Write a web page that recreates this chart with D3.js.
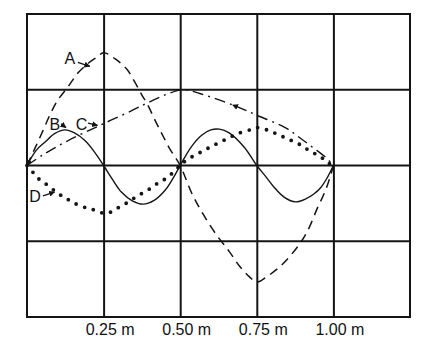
<!DOCTYPE html>
<html>
<head>
<meta charset="utf-8">
<script src="https://cdn.jsdelivr.net/npm/d3@7"></script>
<style>
  body { margin: 0; background: #fff; }
  svg { display: block; }
  text { font-family: 'Liberation Sans', Arial, sans-serif; fill: #111; }
</style>
</head>
<body>
<svg width="435" height="352"></svg>
<script>
var svg = d3.select('svg')

// grid / tick values
var xTicks = [0.25, 0.5, 0.75, 1.0]
var yGrid = [-1, 0, 1]

// wave shapes, [x in m, displacement]
var curveA = [[0, 0], [0.025, 0.22], [0.05, 0.44], [0.075, 0.67], [0.1, 0.86], [0.134, 1.04], [0.166, 1.22],
  [0.2, 1.35], [0.228, 1.43], [0.25, 1.49], [0.287, 1.41], [0.326, 1.27], [0.352, 1.1], [0.375, 0.93],
  [0.394, 0.8], [0.42, 0.58], [0.44, 0.42], [0.466, 0.22], [0.5, 0], [0.537, -0.36], [0.573, -0.63],
  [0.619, -0.92], [0.661, -1.14], [0.694, -1.33], [0.726, -1.47], [0.75, -1.54], [0.782, -1.47],
  [0.824, -1.34], [0.866, -1.16], [0.899, -0.98], [0.922, -0.81], [0.948, -0.56], [0.971, -0.36],
  [0.987, -0.18], [1, 0]]

var curveB = [[0, 0], [0.03, 0.2], [0.059, 0.31], [0.09, 0.42], [0.124, 0.47], [0.155, 0.43], [0.189, 0.33],
  [0.22, 0.18], [0.25, 0], [0.28, -0.19], [0.308, -0.35], [0.345, -0.47], [0.379, -0.51], [0.415, -0.46],
  [0.45, -0.33], [0.475, -0.18], [0.5, 0], [0.535, 0.24], [0.57, 0.4], [0.6, 0.47], [0.628, 0.48],
  [0.66, 0.43], [0.709, 0.24], [0.75, 0], [0.78, -0.15], [0.807, -0.29], [0.84, -0.42], [0.877, -0.48],
  [0.91, -0.44], [0.935, -0.38], [0.959, -0.29], [0.98, -0.16], [1, 0]]

var curveC = [[0, 0], [0.052, 0.14], [0.13, 0.32], [0.238, 0.53], [0.345, 0.73], [0.4, 0.84], [0.456, 0.94],
  [0.51, 1.0], [0.564, 0.95], [0.671, 0.8], [0.752, 0.66], [0.847, 0.49], [0.889, 0.37], [0.932, 0.24],
  [0.977, 0.1], [1, 0]]

var curveD = [[0, 0], [0.026, -0.12], [0.042, -0.19], [0.064, -0.25], [0.102, -0.37], [0.13, -0.44],
  [0.156, -0.5], [0.194, -0.56], [0.222, -0.59], [0.25, -0.63], [0.27, -0.62], [0.292, -0.57],
  [0.319, -0.51], [0.346, -0.44], [0.374, -0.37], [0.4, -0.31], [0.428, -0.23], [0.45, -0.18],
  [0.472, -0.11], [0.5, 0], [0.52, 0.07], [0.564, 0.17], [0.606, 0.26], [0.651, 0.35], [0.694, 0.43],
  [0.736, 0.48], [0.752, 0.5], [0.79, 0.46], [0.824, 0.4], [0.857, 0.34], [0.889, 0.28], [0.912, 0.22],
  [0.938, 0.16], [0.96, 0.11], [0.98, 0.04], [1, 0]]

var labelNames = ['A', 'B', 'C', 'D']
var labelPos = [[0.14, 1.41], [0.091, 0.54], [0.178, 0.55], [0.026, -0.4]]
var labelArrows = [
  [[0.166, 1.36], [0.205, 1.31]],
  [[0.111, 0.55], [0.127, 0.5]],
  [[0.199, 0.56], [0.23, 0.53]],
  [[0.052, -0.4], [0.09, -0.35]]
]

var x = d3.scaleLinear().domain([0, 1.25]).range([27, 410])
var y = d3.scaleLinear().domain([-2, 2]).range([317, 14])

var ink = '#141414'

svg.append('defs').append('marker')
  .attr('id', 'head')
  .attr('viewBox', '0 0 10 10')
  .attr('refX', 9).attr('refY', 5)
  .attr('markerWidth', 6).attr('markerHeight', 6)
  .attr('markerUnits', 'userSpaceOnUse')
  .attr('orient', 'auto')
  .append('path')
  .attr('d', 'M0,0L10,5L0,10z')
  .attr('fill', ink)

// vertical grid + tick labels
var xAxis = d3.axisBottom(x)
  .tickValues(xTicks)
  .tickSize(-(y(-2) - y(2)))
  .tickPadding(7)
  .tickFormat((d) => d3.format('.2f')(d) + ' m')

var gx = svg.append('g')
  .attr('transform', 'translate(0,' + y(-2) + ')')
  .call(xAxis)
gx.select('.domain').remove()
gx.selectAll('line').attr('stroke', ink).attr('stroke-width', 2)
gx.selectAll('text')
  .attr('dx', 6)
  .style('font-size', '16px')
  .style('font-family', "'Liberation Sans', Arial, sans-serif")
  .attr('fill', ink)

// horizontal grid
svg.append('g').selectAll('line')
  .data(yGrid)
  .enter().append('line')
  .attr('x1', x(0)).attr('x2', x(1.25))
  .attr('y1', (d) => y(d)).attr('y2', (d) => y(d))
  .attr('stroke', ink).attr('stroke-width', 2)

// frame
svg.append('rect')
  .attr('x', x(0)).attr('y', y(2))
  .attr('width', x(1.25) - x(0)).attr('height', y(-2) - y(2))
  .attr('fill', 'none').attr('stroke', ink).attr('stroke-width', 2)

var line = d3.line()
  .x((d) => x(d[0]))
  .y((d) => y(d[1]))
  .curve(d3.curveCatmullRom)

var curves = [
  { pts: curveA, dash: '9 6', w: 1.5, cap: 'butt' },
  { pts: curveB, dash: null, w: 1.4, cap: 'butt' },
  { pts: curveC, dash: '11 5 2 5', w: 1.4, cap: 'butt' },
  { pts: curveD, dash: '0 9', w: 3.8, cap: 'round' }
]

svg.append('g').selectAll('path')
  .data(curves)
  .enter().append('path')
  .attr('d', (d) => line(d.pts))
  .attr('fill', 'none')
  .attr('stroke', ink)
  .attr('stroke-width', (d) => d.w)
  .attr('stroke-linecap', (d) => d.cap)
  .attr('stroke-dasharray', (d) => d.dash)

// small travel arrows on A (into origin) and C (descending part)
var travel = [[curveA[2], curveA[0]], [curveC[10], curveC[9]]]
svg.append('g').selectAll('line')
  .data(travel)
  .enter().append('line')
  .attr('x1', (d) => x(d[0][0])).attr('y1', (d) => y(d[0][1]))
  .attr('x2', (d) => x(d[1][0])).attr('y2', (d) => y(d[1][1]))
  .attr('stroke', 'none')
  .attr('marker-end', 'url(#head)')

// curve labels
svg.append('g').selectAll('text')
  .data(labelNames)
  .enter().append('text')
  .attr('x', (d, i) => x(labelPos[i][0]))
  .attr('y', (d, i) => y(labelPos[i][1]))
  .attr('dy', '0.36em')
  .attr('text-anchor', 'middle')
  .style('font-size', '16px')
  .text((d) => d)

svg.append('g').selectAll('line')
  .data(labelArrows)
  .enter().append('line')
  .attr('x1', (d) => x(d[0][0])).attr('y1', (d) => y(d[0][1]))
  .attr('x2', (d) => x(d[1][0])).attr('y2', (d) => y(d[1][1]))
  .attr('stroke', ink).attr('stroke-width', 1.3)
  .attr('marker-end', 'url(#head)')
</script>
</body>
</html>
